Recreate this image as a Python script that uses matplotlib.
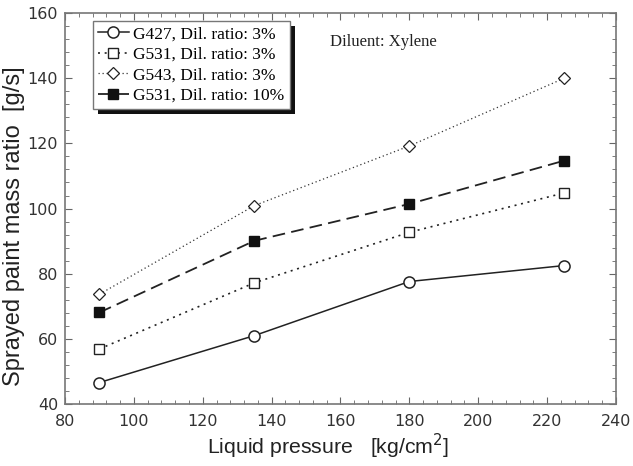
import numpy as np
import matplotlib.pyplot as plt
from matplotlib.patches import Rectangle
from matplotlib.ticker import MultipleLocator

pressure = [90, 135, 180, 225]
g427_3 = [46.6, 61.0, 77.6, 82.5]
g531_3 = [56.9, 77.2, 92.7, 104.8]
g543_3 = [73.7, 100.9, 119.2, 140.0]
g531_10 = [68.1, 90.1, 101.4, 114.7]
labels = ['G427, Dil. ratio: 3%', 'G531, Dil. ratio: 3%',
          'G543, Dil. ratio: 3%', 'G531, Dil. ratio: 10%']

fig = plt.figure(figsize=(6.33, 4.66), dpi=100)
ax = fig.add_axes([0.1027, 0.133, 0.8703, 0.839])

ax.plot(pressure, g427_3, '-', color='#222', lw=1.1, marker='o', ms=8,
        mfc='white', mec='#222', mew=1.1, label=labels[0])
ax.plot(pressure, g531_3, color='#222', lw=1.2, ls=(0, (1.2, 2.8)), marker='s', ms=7,
        mfc='white', mec='#222', mew=1.0, label=labels[1])
ax.plot(pressure, g543_3, color='#333', lw=0.9, ls=(0, (1, 2.2)), marker='D', ms=6,
        mfc='white', mec='#222', mew=0.9, label=labels[2])
ax.plot(pressure, g531_10, color='#222', lw=1.3, ls=(0, (7, 3.5)), marker='s', ms=7,
        mfc='#111', mec='#111', label=labels[3])

ax.set_xlim(80, 240)
ax.set_ylim(40, 160)
ax.xaxis.set_major_locator(MultipleLocator(20))
ax.xaxis.set_minor_locator(MultipleLocator(4))
ax.yaxis.set_major_locator(MultipleLocator(20))
ax.yaxis.set_minor_locator(MultipleLocator(4))
ax.tick_params(which='both', direction='in', top=True, right=True, color='#666',
               labelcolor='#333', labelsize=11.5)
ax.tick_params(axis='x', pad=7)
ax.tick_params(axis='y', pad=5)
ax.tick_params(which='major', length=5)
ax.tick_params(which='minor', length=3)
for s in ax.spines.values():
    s.set_color('#777')
    s.set_linewidth(1.2)

ax.set_xlabel('Liquid pressure   [kg/cm$^2$]', family='Liberation Sans', fontsize=15.3,
              color='#222')
ax.set_ylabel('Sprayed paint mass ratio  [g/s]', family='Liberation Sans', fontsize=17,
              color='#222')
ax.xaxis.set_label_coords(0.477, -0.072)
ax.yaxis.set_label_coords(-0.073, 0.455)

ax.text(157, 150, 'Diluent: Xylene', family='Liberation Serif', fontsize=12, color='#222')

leg = ax.legend(loc='upper left', bbox_to_anchor=(0.05, 0.98),
                prop={'family': 'Liberation Serif', 'size': 12.5},
                handlelength=1.8, handletextpad=0.25, labelspacing=0.25,
                borderpad=0.3, borderaxespad=0, fancybox=False, framealpha=1,
                edgecolor='#777')
leg.get_frame().set_linewidth(1.0)
leg.set_zorder(5)

fig.canvas.draw()
bb = leg.get_window_extent()
shadow = Rectangle((bb.x0 + 5, bb.y0 - 5), bb.width, bb.height,
                   transform=None, facecolor='#111', edgecolor='none', zorder=4)
ax.add_artist(shadow)

fig.savefig('out.png', dpi=100)
